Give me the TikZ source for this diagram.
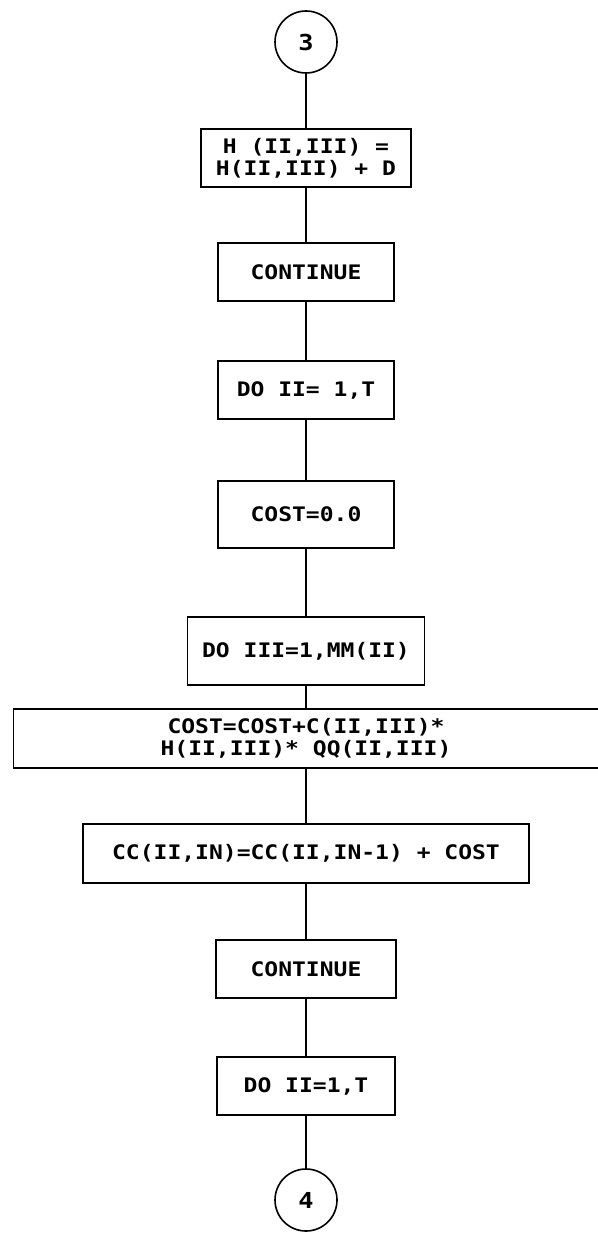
\documentclass[tikz,border=0pt]{standalone}
\usepackage{fontspec}
\newfontfamily\leroy{DejaVu Sans Mono}[FakeStretch=1.15]
\usetikzlibrary{positioning}

\begin{document}
\begin{tikzpicture}[
  x=1pt, y=1pt,
  font=\leroy\bfseries\fontsize{20}{22}\selectfont,
  node distance=57pt,
  box/.style={draw, line width=1.8pt, align=center, inner sep=3pt,
              outer sep=0pt, minimum height=58pt},
  conn/.style={draw, circle, line width=1.6pt, minimum size=62pt, inner sep=0pt,
               outer sep=0pt, font=\leroy\bfseries\fontsize{22}{24}\selectfont},
  line/.style={line width=1.6pt},
]
\useasboundingbox (0,0) rectangle (597,-1233);

% ---------- entry ----------
\node[conn] (c3) at (306,-42) {3};

% ---------- first loop end ----------
\node[box, minimum width=210pt, below=56pt of c3] (addD)
  {H (II,III) =\\H(II,III) + D};
\node[box, minimum width=176pt, below=56pt of addD] (cont1) {CONTINUE};
\node[box, minimum width=176pt, below=60pt of cont1] (doII) {DO II= 1,T};
\node[box, minimum width=176pt, minimum height=67pt, below=62pt of doII] (zero) {COST=0.0};

% ---------- inner loop ----------
\node[box, minimum width=237pt, minimum height=68pt, below=69pt of zero] (doIII) {DO III=1,MM(II)};
\node[box, minimum width=585pt, minimum height=59pt, below=24pt of doIII] (sum)
  {COST=COST+C(II,III)*\\H(II,III)* QQ(II,III)};
\node[box, minimum width=446pt, minimum height=59pt, below=56pt of sum] (accum)
  {CC(II,IN)=CC(II,IN-1) + COST};
\node[box, minimum width=180pt, below=of accum] (cont2) {CONTINUE};
\node[box, minimum width=178pt, below=59pt of cont2] (doII2) {DO II=1,T};

% ---------- exit ----------
\node[conn, below=54pt of doII2] (c4) {4};

% ---------- connectors ----------
\draw[line] (c3) -- (addD);
\draw[line] (addD) -- (cont1);
\draw[line] (cont1) -- (doII);
\draw[line] (doII) -- (zero);
\draw[line] (zero) -- (doIII);
\draw[line] (doIII) -- (sum);
\draw[line] (sum) -- (accum);
\draw[line] (accum) -- (cont2);
\draw[line] (cont2) -- (doII2);
\draw[line] (doII2) -- (c4);

\end{tikzpicture}
\end{document}
